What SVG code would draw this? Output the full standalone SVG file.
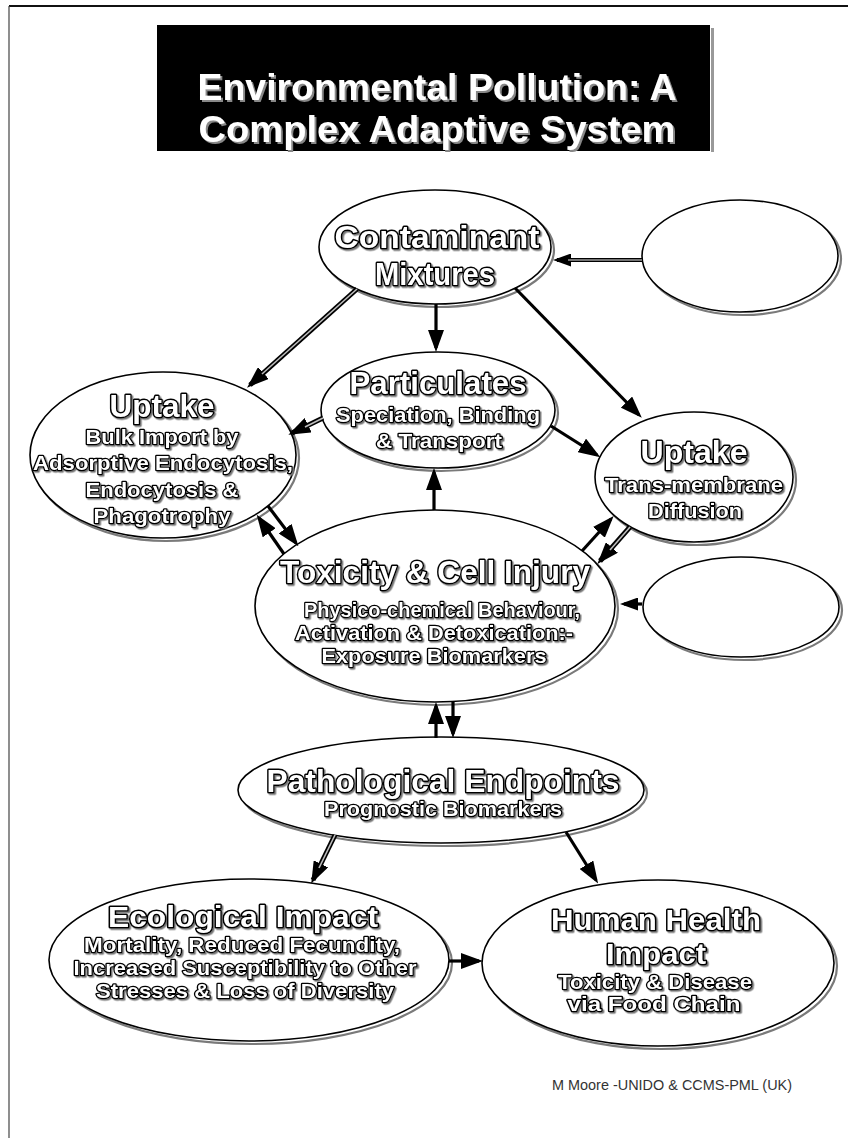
<svg xmlns="http://www.w3.org/2000/svg" width="848" height="1138" viewBox="0 0 848 1138">
<defs>
<style>
.sh{fill:none;stroke:#7a7a7a;stroke-width:2.2}
.bd{fill:#fff;stroke:#000;stroke-width:1.6}
.t{font-family:"Liberation Sans",Arial,sans-serif;font-weight:bold;fill:#fff;stroke:#000;paint-order:stroke;text-anchor:middle;stroke-linejoin:round}
.h{font-size:32px;stroke-width:3}
.h2{font-size:30px;stroke-width:3}
.s{font-size:21px;stroke-width:2.6}
.ti{font-family:"Liberation Sans",Arial,sans-serif;font-weight:bold;font-size:37px;fill:#fff;text-anchor:middle}
.solid{fill:none;stroke:#000;stroke-width:3.2}
.dbl{fill:none;stroke:#000;stroke-width:5}
.dbli{fill:none;stroke:#bdbdbd;stroke-width:1.6}
.thin{fill:none;stroke:#000;stroke-width:4}
.thini{fill:none;stroke:#9a9a9a;stroke-width:1.6}
.credit{font-family:"Liberation Sans",Arial,sans-serif;font-size:15px;fill:#333}
</style>
<marker id="ah" viewBox="0 0 22 16" refX="18" refY="8" markerWidth="22" markerHeight="16" markerUnits="userSpaceOnUse" orient="auto">
<path d="M0,0 L22,8 L0,16 z" fill="#000"/>
</marker>
<marker id="ahs" viewBox="0 0 18 13" refX="14" refY="6.5" markerWidth="18" markerHeight="13" markerUnits="userSpaceOnUse" orient="auto">
<path d="M0,0 L18,6.5 L0,13 z" fill="#000"/>
</marker>
<filter id="tsh" x="-5%" y="-20%" width="110%" height="140%">
<feDropShadow dx="1.5" dy="1.5" stdDeviation="0" flood-color="#777" flood-opacity="1"/>
</filter>
<filter id="tish" x="-5%" y="-20%" width="110%" height="140%">
<feDropShadow dx="2" dy="2" stdDeviation="0" flood-color="#888" flood-opacity="1"/>
</filter>
</defs>
<rect width="848" height="1138" fill="#fff"/>
<g id="frame">
<line x1="9" y1="6" x2="848" y2="6" stroke="#111" stroke-width="2"/>
<line x1="9" y1="6" x2="9" y2="1138" stroke="#444" stroke-width="1.2"/>
</g>
<g id="title">
<rect x="711" y="28" width="3" height="124" fill="#999"/>
<rect x="157" y="25" width="553" height="126" fill="#000"/>
<g filter="url(#tish)">
<text class="ti" x="437" y="100" textLength="479" lengthAdjust="spacingAndGlyphs">Environmental Pollution: A</text>
<text class="ti" x="437" y="142" textLength="477" lengthAdjust="spacingAndGlyphs">Complex Adaptive System</text>
</g>
</g>
<g id="contaminant">
<ellipse class="sh" cx="438" cy="250" rx="116" ry="57"/>
<ellipse class="bd" cx="435" cy="247" rx="116" ry="57"/>
<g filter="url(#tsh)">
<text class="t h" x="437" y="248" textLength="205" lengthAdjust="spacingAndGlyphs">Contaminant</text>
<text class="t h" x="435" y="285" textLength="120" lengthAdjust="spacingAndGlyphs">Mixtures</text>
</g>
</g>
<g id="external-top">
<ellipse class="sh" cx="743" cy="259" rx="98" ry="56"/>
<ellipse class="bd" cx="740" cy="256" rx="98" ry="56"/>
</g>
<g id="uptake-bulk">
<ellipse class="sh" cx="166" cy="458" rx="133" ry="83"/>
<ellipse class="bd" cx="163" cy="455" rx="133" ry="83"/>
<g filter="url(#tsh)">
<text class="t h" x="162" y="417" textLength="105" lengthAdjust="spacingAndGlyphs">Uptake</text>
<text class="t s" x="162" y="444" textLength="153" lengthAdjust="spacingAndGlyphs">Bulk Import by</text>
<text class="t s" x="163" y="470" textLength="260" lengthAdjust="spacingAndGlyphs">Adsorptive Endocytosis,</text>
<text class="t s" x="162" y="497" textLength="153" lengthAdjust="spacingAndGlyphs">Endocytosis &amp;</text>
<text class="t s" x="162" y="523" textLength="137" lengthAdjust="spacingAndGlyphs">Phagotrophy</text>
</g>
</g>
<g id="particulates">
<ellipse class="sh" cx="441" cy="413" rx="117" ry="58"/>
<ellipse class="bd" cx="438" cy="410" rx="117" ry="58"/>
<g filter="url(#tsh)">
<text class="t h" x="438" y="394" textLength="177" lengthAdjust="spacingAndGlyphs">Particulates</text>
<text class="t s" x="438" y="422" textLength="204" lengthAdjust="spacingAndGlyphs">Speciation, Binding</text>
<text class="t s" x="439" y="448" textLength="126" lengthAdjust="spacingAndGlyphs">&amp; Transport</text>
</g>
</g>
<g id="uptake-diffusion">
<ellipse class="sh" cx="697" cy="480" rx="99" ry="65"/>
<ellipse class="bd" cx="694" cy="477" rx="99" ry="65"/>
<g filter="url(#tsh)">
<text class="t h" x="694" y="463" textLength="107" lengthAdjust="spacingAndGlyphs">Uptake</text>
<text class="t s" x="694" y="492" textLength="178" lengthAdjust="spacingAndGlyphs">Trans-membrane</text>
<text class="t s" x="695" y="518" textLength="94" lengthAdjust="spacingAndGlyphs">Diffusion</text>
</g>
</g>
<g id="external-mid">
<ellipse class="sh" cx="744" cy="610" rx="98" ry="50"/>
<ellipse class="bd" cx="741" cy="607" rx="98" ry="50"/>
</g>
<g id="toxicity">
<ellipse class="sh" cx="438" cy="609" rx="180" ry="96"/>
<ellipse class="bd" cx="435" cy="606" rx="180" ry="96"/>
<g filter="url(#tsh)">
<text class="t h" x="435" y="583" textLength="310" lengthAdjust="spacingAndGlyphs">Toxicity &amp; Cell Injury</text>
<text class="t s" x="442" y="617" textLength="276" lengthAdjust="spacingAndGlyphs">Physico-chemical Behaviour,</text>
<text class="t s" x="434" y="640" textLength="278" lengthAdjust="spacingAndGlyphs">Activation &amp; Detoxication:-</text>
<text class="t s" x="434" y="663" textLength="225" lengthAdjust="spacingAndGlyphs">Exposure Biomarkers</text>
</g>
</g>
<g id="pathological">
<ellipse class="sh" cx="444" cy="793" rx="203" ry="53"/>
<ellipse class="bd" cx="441" cy="790" rx="203" ry="53"/>
<g filter="url(#tsh)">
<text class="t h" x="443" y="792" textLength="353" lengthAdjust="spacingAndGlyphs">Pathological Endpoints</text>
<text class="t s" x="443" y="816" textLength="238" lengthAdjust="spacingAndGlyphs">Prognostic Biomarkers</text>
</g>
</g>
<g id="ecological">
<ellipse class="sh" cx="252" cy="963" rx="200" ry="81"/>
<ellipse class="bd" cx="249" cy="960" rx="200" ry="81"/>
<g filter="url(#tsh)">
<text class="t h2" x="243" y="927" textLength="270" lengthAdjust="spacingAndGlyphs">Ecological Impact</text>
<text class="t s" x="242" y="952" textLength="316" lengthAdjust="spacingAndGlyphs">Mortality, Reduced Fecundity,</text>
<text class="t s" x="245" y="975" textLength="343" lengthAdjust="spacingAndGlyphs">Increased Susceptibility to Other</text>
<text class="t s" x="245" y="998" textLength="298" lengthAdjust="spacingAndGlyphs">Stresses &amp; Loss of Diversity</text>
</g>
</g>
<g id="human">
<ellipse class="sh" cx="661" cy="966" rx="176" ry="83"/>
<ellipse class="bd" cx="658" cy="963" rx="176" ry="83"/>
<g filter="url(#tsh)">
<text class="t h2" x="656" y="930" textLength="210" lengthAdjust="spacingAndGlyphs">Human Health</text>
<text class="t h2" x="656" y="964" textLength="100" lengthAdjust="spacingAndGlyphs">Impact</text>
<text class="t s" x="655" y="989" textLength="194" lengthAdjust="spacingAndGlyphs">Toxicity &amp; Disease</text>
<text class="t s" x="654" y="1011" textLength="173" lengthAdjust="spacingAndGlyphs">via Food Chain</text>
</g>
</g>
<g id="connectors">
<path class="thin" d="M642,260 L557,260" marker-end="url(#ahs)"/>
<path class="thini" d="M642,260 L568,260"/>
<path class="dbl" d="M357,289 L250,385" marker-end="url(#ah)"/>
<path class="dbli" d="M357,289 L262,374"/>
<path class="solid" d="M436,304 L436,348" marker-end="url(#ah)"/>
<path class="solid" d="M515,288 L639,415" marker-end="url(#ah)"/>
<path class="dbl" d="M323,418 L292,433" marker-end="url(#ah)"/>
<path class="dbli" d="M323,418 L305,427"/>
<path class="solid" d="M551,426 L597,455" marker-end="url(#ah)"/>
<path class="solid" d="M434,510 L434,472" marker-end="url(#ah)"/>
<path class="solid" d="M284,554 L259,518" marker-end="url(#ah)"/>
<path class="solid" d="M268,506 L296,543" marker-end="url(#ah)"/>
<path class="solid" d="M582,551 L611,519" marker-end="url(#ah)"/>
<path class="dbl" d="M630,527 L600,561" marker-end="url(#ah)"/>
<path class="dbli" d="M630,527 L610,550"/>
<path class="solid" d="M642,604 L624,604" marker-end="url(#ahs)"/>
<path class="solid" d="M436,738 L436,706" marker-end="url(#ah)"/>
<path class="solid" d="M453,701 L453,734" marker-end="url(#ah)"/>
<path class="dbl" d="M335,835 L313,880" marker-end="url(#ah)"/>
<path class="dbli" d="M335,835 L319,868"/>
<path class="solid" d="M566,832 L596,880" marker-end="url(#ah)"/>
<path class="solid" d="M449,961 L479,961" marker-end="url(#ah)"/>
</g>
<text id="credit" class="credit" x="552" y="1090" textLength="240" lengthAdjust="spacingAndGlyphs">M Moore -UNIDO &amp; CCMS-PML (UK)</text>
</svg>
